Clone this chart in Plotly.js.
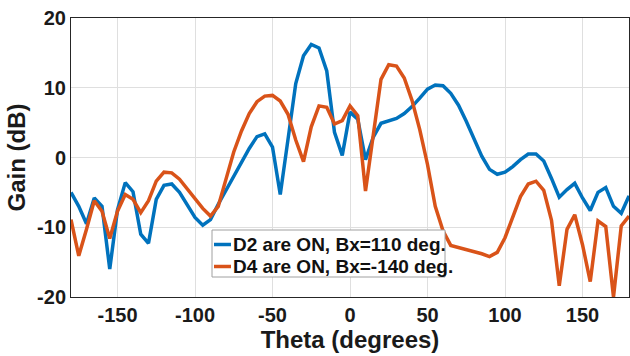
<!DOCTYPE html>
<html><head><meta charset="utf-8">
<script src="https://cdn.plot.ly/plotly-3.0.1.min.js"></script>
<style>html,body{margin:0;padding:0;background:#fff}#chart{width:630px;height:356px}</style>
</head><body><div id="chart"></div>
<script>
const theta = [-180,-175,-170,-165,-160,-155,-150,-145,-140,-135,-130,-125,-120,-115,-110,-105,-100,-95,-90,-85,-80,-75,-70,-65,-60,-55,-50,-45,-40,-35,-30,-25,-20,-15,-10,-5,0,5,10,15,20,25,30,35,40,45,50,55,60,65,70,75,80,85,90,95,100,105,110,115,120,125,130,135,140,145,150,155,160,165,170,175,180];
const gainD2 = [-5.0,-7.0,-9.5,-5.8,-7.0,-16.0,-7.5,-3.6,-4.9,-11.0,-12.3,-6.0,-4.0,-3.8,-5.0,-6.8,-8.6,-9.7,-8.9,-6.7,-4.7,-2.7,-0.7,1.3,3.0,3.4,1.5,-5.3,2.6,10.6,14.6,16.2,15.7,12.4,3.6,0.3,6.5,5.5,-0.3,2.9,4.9,5.3,5.6,6.3,7.3,8.5,9.8,10.4,10.3,9.2,7.5,5.2,2.8,0.2,-1.7,-2.4,-2.1,-1.3,-0.3,0.5,0.5,-0.5,-3.0,-5.7,-4.6,-3.7,-5.8,-7.6,-5.0,-4.3,-7.0,-8.0,-5.5];
const gainD4 = [-8.9,-14.1,-10.3,-6.2,-7.7,-11.6,-7.7,-5.3,-6.0,-7.9,-6.2,-3.4,-2.1,-2.2,-3.1,-4.5,-5.9,-7.3,-8.4,-7.0,-3.1,0.8,3.8,6.3,8.0,8.8,8.9,8.1,6.2,2.5,-0.6,4.4,7.4,7.2,4.8,5.3,7.4,6.0,-4.8,3.4,11.2,13.3,13.1,11.4,8.2,4.0,-1.0,-7.0,-10.5,-12.6,-12.9,-13.1,-13.4,-13.8,-14.2,-13.6,-11.5,-8.5,-5.6,-3.8,-3.4,-4.7,-9.0,-18.4,-10.3,-8.2,-12.5,-17.8,-9.1,-9.9,-20.0,-9.8,-8.4];
const seriesNames = ["D2 are ON, Bx=110 deg.", "D4 are ON, Bx=-140 deg."];
const seriesColors = ['#0072BD', '#D95319'];
const xTicks = [-150,-100,-50,0,50,100,150];
const yTicks = [-20,-10,0,10,20];

const font = {family: '"Liberation Sans", Arial, sans-serif', color: '#1a1a1a', weight: 700};
const traces = [
  {x: theta, y: gainD2, name: seriesNames[0], mode: 'lines', line: {color: seriesColors[0], width: 3.5}},
  {x: theta, y: gainD4, name: seriesNames[1], mode: 'lines', line: {color: seriesColors[1], width: 3.5}}
];

// Legend drawn in plot-area fractions
const W = 558, H = 279, L = 71, T = 18;
const px = v => (v - L) / W, py = v => (T + H - v) / H;
const legRows = [244.5, 266.5];
const shapes = [
  {type: 'rect', xref: 'paper', yref: 'paper', x0: px(212), x1: px(445), y0: py(277), y1: py(230), fillcolor: '#fff', line: {color: '#a0a0a0', width: 1}, layer: 'above'}
];
const annotations = [];
seriesNames.forEach((n, i) => {
  shapes.push({type: 'line', xref: 'paper', yref: 'paper', x0: px(214), x1: px(231), y0: py(legRows[i]), y1: py(legRows[i]), line: {color: seriesColors[i], width: 3.5}, layer: 'above'});
  annotations.push({xref: 'paper', yref: 'paper', x: px(231), y: py(legRows[i]), xanchor: 'left', yanchor: 'middle', text: n, showarrow: false, font: Object.assign({}, font, {size: 19, color: '#111'})});
});

const axisCommon = {showline: true, mirror: true, linecolor: '#262626', linewidth: 1, gridcolor: '#dfdfdf', gridwidth: 1, zeroline: false, ticks: '', tickfont: Object.assign({}, font, {size: 20})};
const layout = {
  width: 630, height: 356,
  margin: {l: 71, r: 1, t: 18, b: 59},
  paper_bgcolor: '#fff', plot_bgcolor: '#fff',
  font: font,
  showlegend: false,
  shapes: shapes,
  annotations: annotations,
  xaxis: Object.assign({}, axisCommon, {range: [-180, 180], tickvals: xTicks, ticktext: xTicks.map(String), title: {text: 'Theta (degrees)', font: Object.assign({}, font, {size: 24}), standoff: 2}}),
  yaxis: Object.assign({}, axisCommon, {range: [-20, 20], tickvals: yTicks, ticktext: yTicks.map(String), title: {text: 'Gain (dB)', font: Object.assign({}, font, {size: 24}), standoff: 4}})
};
Plotly.newPlot('chart', traces, layout, {displayModeBar: false, staticPlot: true});
</script></body></html>
